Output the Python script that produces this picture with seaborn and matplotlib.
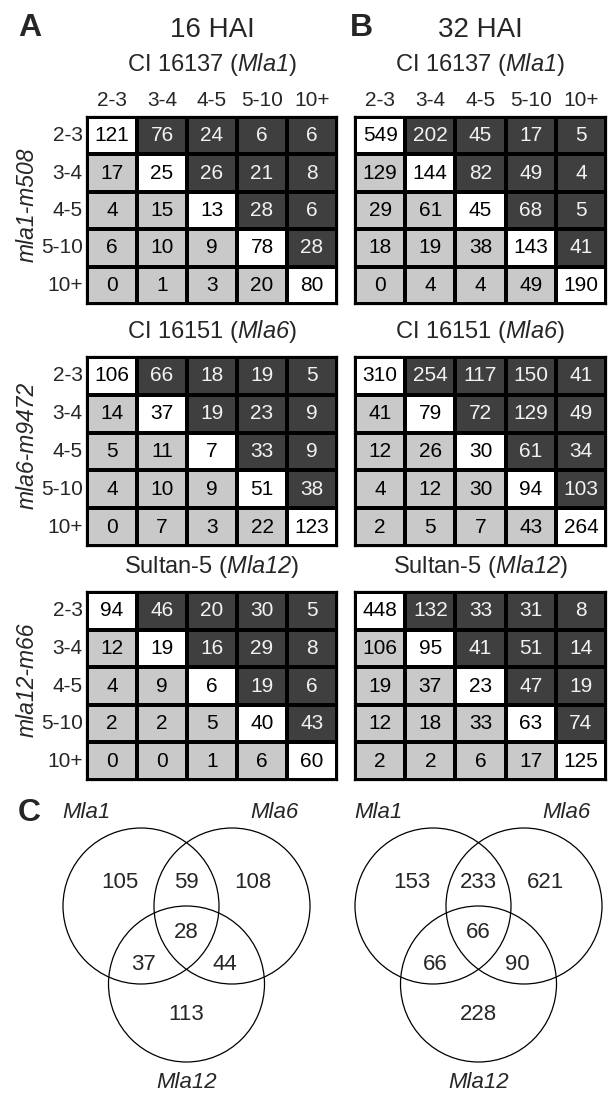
import numpy as np
import matplotlib
import matplotlib.pyplot as plt
import seaborn as sns
from matplotlib.colors import ListedColormap
from matplotlib.patches import Circle

sns.set_theme(style="white")
plt.rcParams["font.family"] = ["Liberation Sans", "DejaVu Sans"]
# math text is only used for the italic gene names, digits included
plt.rcParams["mathtext.fontset"] = "custom"
plt.rcParams["mathtext.rm"] = "Liberation Sans:italic"
plt.rcParams["mathtext.it"] = "Liberation Sans:italic"

# ========================
# Data
# ========================
bins = ["2-3", "3-4", "4-5", "5-10", "10+"]
timepoints = ["16 HAI", "32 HAI"]
panel_letters = ["A", "B"]
line_titles = [r"CI 16137 ($Mla1$)", r"CI 16151 ($Mla6$)", r"Sultan-5 ($Mla12$)"]
mutants = ["mla1-m508", "mla6-m9472", "mla12-m66"]

mla1_16 = [[121, 76, 24, 6, 6], [17, 25, 26, 21, 8], [4, 15, 13, 28, 6],
           [6, 10, 9, 78, 28], [0, 1, 3, 20, 80]]
mla6_16 = [[106, 66, 18, 19, 5], [14, 37, 19, 23, 9], [5, 11, 7, 33, 9],
           [4, 10, 9, 51, 38], [0, 7, 3, 22, 123]]
mla12_16 = [[94, 46, 20, 30, 5], [12, 19, 16, 29, 8], [4, 9, 6, 19, 6],
            [2, 2, 5, 40, 43], [0, 0, 1, 6, 60]]
mla1_32 = [[549, 202, 45, 17, 5], [129, 144, 82, 49, 4], [29, 61, 45, 68, 5],
           [18, 19, 38, 143, 41], [0, 4, 4, 49, 190]]
mla6_32 = [[310, 254, 117, 150, 41], [41, 79, 72, 129, 49], [12, 26, 30, 61, 34],
           [4, 12, 30, 94, 103], [2, 5, 7, 43, 264]]
mla12_32 = [[448, 132, 33, 31, 8], [106, 95, 41, 51, 14], [19, 37, 23, 47, 19],
            [12, 18, 33, 63, 74], [2, 2, 6, 17, 125]]

venn_sets = ["Mla1", "Mla6", "Mla12"]
# regions: only1, 1&6, only6, all, 1&12, 6&12, only12
venn_16 = [105, 59, 108, 28, 37, 44, 113]
venn_32 = [153, 233, 621, 66, 66, 90, 228]

# ========================
# Layout (pixels)
# ========================
W, H = 608, 1095
fig = plt.figure(figsize=(W / 100, H / 100), dpi=100)


def box(x0, y0, x1, y1):
    return [x0 / W, 1 - y1 / H, (x1 - x0) / W, (y1 - y0) / H]


col_x = [(87, 337), (355, 606)]
row_y = [(117, 304), (357, 546), (592, 780)]
matrices = [[mla1_16, mla6_16, mla12_16], [mla1_32, mla6_32, mla12_32]]

n = len(bins)
ii, jj = np.indices((n, n))
kind = np.where(ii == jj, 0, np.where(ii > jj, 1, 2))
cmap = ListedColormap(["white", "#c9c9c9", "#3f3f3f"])

for c, (x0, x1) in enumerate(col_x):
    cx = (x0 + x1) / 2
    fig.text(cx / W, 1 - 30 / H, timepoints[c], ha="center", va="center", size=20)
    fig.text((x0 - 57 if c == 0 else x0 + 6) / W, 1 - 28 / H, panel_letters[c],
             ha="center", va="center", size=23, weight="bold")
    for r, (y0, y1) in enumerate(row_y):
        ax = fig.add_axes(box(x0, y0, x1, y1))
        vals = np.array(matrices[c][r])
        sns.heatmap(kind, annot=vals, fmt="d", cmap=cmap, vmin=-0.5, vmax=2.5,
                    cbar=False, linewidths=1.6, linecolor="black",
                    xticklabels=bins if r == 0 else False,
                    yticklabels=bins if c == 0 else False,
                    annot_kws=dict(size=15), ax=ax)
        for t, k in zip(ax.texts, kind.flatten()):
            t.set_color("#f2f2f2" if k == 2 else "black")
        ax.xaxis.set_ticks_position("top")
        ax.tick_params(length=0, labelsize=15, pad=5)
        ax.tick_params(axis="y", rotation=0, pad=3)
        for sp in ax.spines.values():
            sp.set_visible(True)
            sp.set_color("black")
            sp.set_linewidth(1.6)
        ty = y0 - 52 if r == 0 else y0 - 25
        fig.text(cx / W, 1 - ty / H, line_titles[r], ha="center", va="center", size=17)
        if c == 0:
            fig.text(27 / W, 1 - ((y0 + y1) / 2 - 6) / H, mutants[r], rotation=90,
                     ha="center", va="center", size=16.5, style="italic")

# ========================
# Venn diagrams
# ========================
ov = fig.add_axes([0, 0, 1, 1])
ov.set_xlim(0, W)
ov.set_ylim(H, 0)
ov.axis("off")
fig.text(29 / W, 1 - 813 / H, "C", ha="center", va="center", size=23, weight="bold")

rad = 78
for shift, counts in zip([0, 292], [venn_16, venn_32]):
    a = (141 + shift, 906)
    b = (232 + shift, 906)
    cc = ((a[0] + b[0]) / 2, 984)
    for ctr in (a, b, cc):
        ov.add_patch(Circle(ctr, rad, fill=False, ec="black", lw=0.9))
    mid = (a[0] + b[0]) / 2
    spots = [(a[0] - 21, 883), (mid, 883), (b[0] + 21, 883), (mid, 932),
             (a[0] + 2, 965), (b[0] - 7, 965), (cc[0], 1015)]
    for (x, y), v in zip(spots, counts):
        ov.text(x, y, str(v), ha="center", va="center", size=16)
    ov.text(a[0] - 55, 813, venn_sets[0], ha="center", va="center", size=16, style="italic")
    ov.text(b[0] + 42, 813, venn_sets[1], ha="center", va="center", size=16, style="italic")
    ov.text(cc[0], 1083, venn_sets[2], ha="center", va="center", size=16, style="italic")

fig.savefig("out.png", dpi=100)
plt.close(fig)
